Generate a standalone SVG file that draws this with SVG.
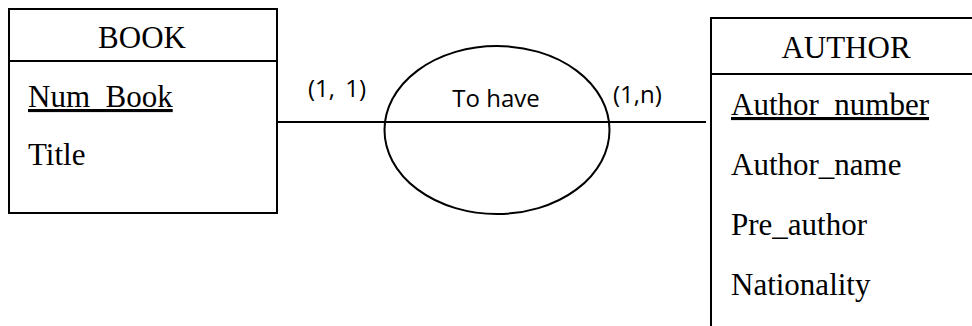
<svg xmlns="http://www.w3.org/2000/svg" width="972" height="326" viewBox="0 0 972 326">
  <style>
    .box { fill: #ffffff; stroke: #000000; stroke-width: 2; }
    .rule { stroke: #000000; stroke-width: 2; }
    .attr { font-family: "Liberation Serif", "Times New Roman", serif; font-size: 31px; fill: #000000; }
    .title { text-anchor: middle; }
    .key { text-decoration: underline; }
    .rel { font-family: "Open Sans", "Noto Sans", sans-serif; font-size: 24px; fill: #000000; }
    .link { fill: none; stroke: #000000; stroke-width: 2; }
    .assoc { fill: none; stroke: #000000; stroke-width: 2; }
  </style>
  <rect width="972" height="326" fill="#ffffff"/>

  <!-- connectors -->
  <g id="connectors">
    <line class="link" x1="277" y1="122" x2="706" y2="122"/>
    <text class="rel" x="308" y="97" word-spacing="4">(1, 1)</text>
    <text class="rel" x="613" y="103">(1,n)</text>
  </g>

  <!-- association -->
  <g id="to-have">
    <ellipse class="assoc" cx="497" cy="130" rx="112.5" ry="84"/>
    <text class="rel" x="496" y="107" text-anchor="middle">To have</text>
  </g>

  <!-- entity BOOK -->
  <g id="book">
    <rect class="box" x="9" y="9" width="268" height="204"/>
    <line class="rule" x1="9" y1="61" x2="277" y2="61"/>
    <text class="attr title" x="142" y="48">BOOK</text>
    <text class="attr key" x="28" y="107">Num_Book</text>
    <text class="attr" x="28" y="165">Title</text>
  </g>

  <!-- entity AUTHOR -->
  <g id="author">
    <rect class="box" x="711" y="18" width="270" height="330"/>
    <line class="rule" x1="711" y1="74" x2="981" y2="74"/>
    <text class="attr title" x="846" y="58">AUTHOR</text>
    <text class="attr key" x="731" y="115">Author_number</text>
    <text class="attr" x="731" y="175">Author_name</text>
    <text class="attr" x="731" y="235">Pre_author</text>
    <text class="attr" x="731" y="295">Nationality</text>
  </g>
</svg>
